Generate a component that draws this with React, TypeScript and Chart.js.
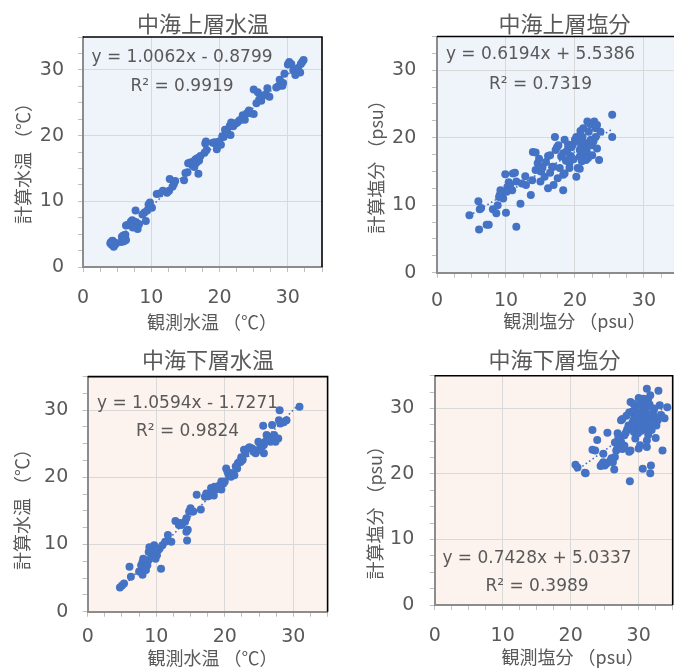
import React, { useEffect, useRef } from 'react';
import { Chart, registerables } from 'chart.js';

Chart.register(...registerables);

// ---------------- data ----------------
const panelTitles = ['中海上層水温', '中海上層塩分', '中海下層水温', '中海下層塩分'];
const xAxisTitles = ['観測水温 （℃）', '観測塩分 （psu）', '観測水温 （℃）', '観測塩分 （psu）'];
const yAxisTitles = ['計算水温 （℃）', '計算塩分 （psu）', '計算水温 （℃）', '計算塩分 （psu）'];

const trendSlopes = [1.0062, 0.6194, 1.0594, 0.7428];
const trendIntercepts = [-0.8799, 5.5386, -1.7271, 5.0337];
const r2Values = [0.9919, 0.7319, 0.9824, 0.3989];

const axisRange = [0, 35];
const minorStep = 2.5;
const majorTicks = [0, 10, 20, 30];

const upperTempObs = [4.0, 4.2, 4.3, 4.5, 4.6, 4.8, 4.4, 4.1, 5.6, 5.8, 5.9, 6.0, 6.1, 6.2, 5.7, 6.3, 6.3, 6.5, 6.8,
  7.0, 7.2, 7.4, 7.5, 7.6, 7.8, 8.0, 7.3, 7.9, 8.2, 7.7, 8.7, 9.0, 9.2, 9.4, 9.6, 9.8, 10.1, 9.9,
  10.8, 11.2, 11.7, 12.3, 12.6, 12.7, 13.1, 13.3, 13.5, 14.8, 15.0, 15.3,
  15.4, 15.7, 16.0, 16.2, 16.4, 16.5, 16.6, 16.8, 16.9, 17.0, 17.2, 16.3, 16.7, 17.9, 18.0, 18.1, 17.8,
  19.0, 19.3, 19.6, 19.9, 20.2, 20.4, 20.6,
  20.8, 21.1, 21.5, 21.6, 21.7, 22.0, 22.3, 22.6, 22.9, 23.1, 23.4, 23.7, 24.0, 24.3, 24.6, 25.0,
  25.0, 25.4, 25.6, 25.8, 26.1, 26.4, 26.8, 27.0, 27.3, 28.3, 28.6, 28.8, 29.1, 29.3, 29.5, 29.2,
  30.0, 30.2, 30.5, 30.8, 31.1, 31.5, 31.8, 32.1, 32.3, 31.9];
const upperTempCalc = [3.6, 3.4, 4.0, 3.1, 3.7, 3.5, 3.9, 3.8, 3.8, 4.3, 4.8, 3.9, 4.5, 4.9, 4.6, 4.1, 6.3, 6.4, 6.5,
  6.9, 7.1, 6.6, 6.3, 6.9, 6.2, 5.8, 6.0, 6.7, 6.5, 8.6, 8.0, 8.3, 7.0, 8.6, 9.5, 9.8, 9.0, 9.2,
  11.1, 11.2, 11.6, 11.3, 11.6, 13.4, 12.2, 12.6, 13.1, 13.2, 14.3, 14.4,
  15.8, 15.9, 15.5, 16.1, 15.7, 16.4, 15.9, 16.6, 14.2, 16.2, 16.9, 15.2, 16.0, 18.8, 19.1, 17.8, 17.4,
  18.9, 19.0, 17.9, 19.1, 18.6, 19.9, 19.8,
  20.9, 20.9, 21.5, 20.1, 22.0, 21.4, 21.8, 22.0, 22.3, 22.4, 23.1, 22.4, 23.4, 23.8, 23.4, 23.3,
  27.0, 24.9, 26.6, 25.5, 25.3, 26.1, 26.3, 27.2, 25.9, 27.3, 27.5, 28.5, 27.7, 28.0, 29.4, 27.6,
  30.8, 31.2, 30.9, 29.9, 29.2, 30.3, 29.6, 31.2, 31.5, 30.9];

const upperSalObs = [4.7, 6.0, 6.2, 6.4, 6.1, 7.2, 7.5, 8.1, 8.6, 8.8,
  9.0, 9.2, 9.4, 9.1, 9.6, 9.9, 10.0, 10.1, 10.2, 10.4, 10.6,
  11.0, 11.3, 11.5, 11.5, 12.1, 12.3, 12.8,
  13.6, 13.8, 13.9, 14.3, 14.3, 14.6, 14.8, 15.0, 15.1, 15.3,
  15.8, 16.1, 16.4, 16.1, 16.7, 16.9, 16.9, 17.1, 17.2, 17.4,
  17.6, 17.8, 18.0, 18.3, 18.3, 18.3, 18.5, 18.5, 18.8, 19.0,
  19.0, 19.2, 19.2, 19.5, 19.7, 20.0, 20.2, 20.2, 20.4, 20.7,
  20.7, 20.7, 20.9, 21.1, 21.2, 21.4, 21.6, 21.7, 21.8, 21.8,
  22.0, 22.0, 22.3, 22.5, 22.5, 22.8, 23.0, 23.0, 23.2, 23.2,
  23.5, 23.7, 25.4, 25.4,
  19.4, 20.5, 21.0, 21.9, 22.7, 20.8, 22.2, 19.8, 21.3, 18.7, 17.5, 16.4, 15.6, 12.9, 10.9];
const upperSalCalc = [8.5, 10.6, 9.4, 9.6, 6.4, 7.1, 7.1, 9.4, 8.8, 10.0,
  11.2, 12.2, 11.8, 11.5, 11.0, 14.6, 8.9, 12.0, 12.7, 13.4, 13.0,
  14.7, 14.8, 13.5, 6.8, 10.2, 13.2, 14.3,
  11.5, 13.7, 17.9, 17.8, 15.2, 16.2, 16.9, 13.5, 15.0, 15.7,
  16.4, 17.3, 17.4, 12.5, 15.7, 15.7, 13.0, 20.1, 18.2, 18.6,
  18.9, 15.5, 17.2, 17.7, 12.2, 14.5, 14.7, 19.7, 18.0, 18.4,
  19.0, 15.5, 16.2, 18.6, 19.0, 19.7, 20.1, 14.2, 15.5, 15.4,
  17.2, 18.2, 18.7, 20.1, 21.4, 17.7, 16.7, 18.0, 18.7, 22.4,
  20.9, 19.2, 19.7, 17.4, 18.9, 22.4, 21.4, 20.1, 18.4, 21.9,
  16.7, 20.9, 23.4, 20.1,
  17.3, 19.5, 16.5, 17.0, 19.5, 21.0, 22.0, 16.8, 19.3, 16.6, 14.0, 14.8, 14.2, 13.0, 12.2];

const lowerTempObs = [4.7, 5.0, 5.3, 6.1, 6.3, 7.5, 7.8, 8.0, 8.0, 8.1,
  8.5, 8.7, 8.9, 8.9, 9.2, 9.4, 9.7, 9.3, 9.9, 10.1,
  10.3, 10.5, 10.7, 10.9, 11.3, 11.7, 12.2, 12.8, 13.3, 13.5,
  13.7, 14.2, 14.4, 14.4, 14.6, 14.5, 14.8, 15.0, 15.2, 15.4,
  15.9, 16.5, 17.1, 17.3, 18.0, 18.2, 18.5, 18.7, 19.0, 19.5,
  19.5, 19.8, 20.0, 20.2, 20.4, 20.6, 20.9, 21.1, 21.4, 21.6,
  21.9, 22.1, 22.3, 22.6, 22.8, 23.0, 23.4, 24.0, 24.2, 24.5,
  24.7, 25.2, 25.4, 25.7, 25.6, 25.7, 25.9, 26.1, 26.4, 26.7,
  26.9, 27.2, 27.4, 27.8, 27.9, 28.0, 28.1, 28.6, 29.0, 30.9,
  18.4, 19.2, 21.8, 23.6, 24.9, 26.2, 22.4, 20.8, 17.6, 9.6, 9.0];
const lowerTempCalc = [3.6, 3.9, 4.2, 6.7, 5.2, 6.0, 6.9, 7.4, 5.5, 7.9,
  6.2, 6.9, 7.7, 8.9, 9.4, 9.4, 9.9, 8.7, 7.9, 8.4,
  9.2, 9.4, 6.4, 9.9, 10.4, 11.4, 10.4, 13.5, 12.9, 13.2,
  12.9, 13.4, 13.9, 11.9, 12.2, 10.6, 14.9, 15.4, 14.9, 14.9,
  17.4, 15.2, 17.1, 17.6, 18.4, 17.9, 18.6, 18.2, 18.4, 18.2,
  19.4, 19.1, 19.4, 21.3, 20.8, 20.3, 20.1, 20.6, 20.3, 21.6,
  22.1, 22.3, 22.3, 22.6, 24.1, 23.5, 24.3, 24.3, 23.8, 23.6,
  24.0, 24.8, 24.6, 24.8, 27.7, 23.6, 25.3, 26.3, 26.1, 25.3,
  27.8, 26.3, 25.3, 25.8, 28.5, 30.0, 28.0, 28.2, 28.5, 30.5,
  17.3, 18.8, 21.3, 24.5, 25.3, 25.6, 23.0, 20.6, 17.2, 9.0, 9.6];

const lowerSalObs = [20.7, 21.0, 22.1, 22.2, 23.2, 23.2, 23.6, 23.9, 24.4, 24.6,
  24.8, 25.0, 25.3, 24.8, 25.4, 25.8, 26.0, 26.2, 26.5, 26.4,
  26.7, 26.9, 27.1, 27.4, 27.6, 27.9, 26.9, 27.4, 27.6, 27.9,
  28.1, 28.3, 28.5, 28.6, 28.8, 28.7, 28.6, 28.8, 29.1, 29.3,
  29.5, 29.8, 29.3, 29.5, 29.8, 30.0, 30.2, 30.0, 30.2, 30.5,
  30.7, 30.7, 30.6, 30.9, 31.0, 31.2, 31.2, 31.2, 31.2, 31.4,
  31.7, 31.7, 31.9, 31.7, 31.8, 31.9, 32.1, 32.4, 32.6, 32.8,
  32.9, 33.1, 33.5,
  29.0, 29.6, 30.1, 30.3, 30.8, 31.0, 31.3, 31.5, 30.4, 29.9,
  31.1, 30.6, 29.4, 30.9, 31.6, 32.3, 32.0, 28.2, 28.9, 29.7,
  30.4, 31.4, 32.5, 30.0, 29.2, 27.0, 26.5, 33.3, 33.8, 34.2];
const lowerSalCalc = [21.4, 21.0, 20.2, 20.1, 26.7, 23.7, 23.6, 25.2, 21.2, 21.5,
  21.8, 21.3, 21.6, 23.1, 26.3, 22.0, 22.4, 21.8, 22.6, 20.7,
  23.6, 24.0, 24.4, 24.9, 23.8, 24.3, 26.2, 28.2, 28.4, 25.9,
  26.3, 26.8, 27.4, 23.4, 23.6, 18.9, 29.4, 31.0, 27.9, 28.4,
  28.9, 29.4, 26.4, 25.4, 27.1, 27.6, 28.2, 23.9, 24.4, 29.4,
  30.4, 31.5, 20.8, 28.9, 27.9, 26.9, 25.1, 24.1, 33.0, 31.5,
  32.0, 27.4, 28.4, 20.1, 21.3, 26.7, 29.4, 28.7, 27.4, 28.2,
  32.7, 30.5, 23.6,
  29.5, 30.1, 29.0, 30.7, 30.0, 29.5, 30.3, 29.0, 27.5, 26.2,
  28.3, 28.6, 29.8, 31.1, 30.6, 30.0, 27.9, 28.9, 27.2, 28.0,
  26.6, 26.0, 25.5, 31.6, 30.7, 25.5, 24.8, 29.0, 28.5, 30.2];

// ---------------- styling / layout ----------------
const BLUE = '#4472C4';
const TEXT = '#595959';
const GRID = '#d9d9d9';
const LATIN = '"DejaVu Sans", "Noto Sans CJK JP", sans-serif';
const CJK = '"Noto Sans CJK JP", "DejaVu Sans", sans-serif';

type Box = { left: number; top: number; width: number; height: number };
type Area = { left: number; top: number; right: number; bottom: number };
type Spec = {
  idx: number;
  obs: number[];
  calc: number[];
  bg: string;
  box: Box;
  area: Area;
  xTickPad: number;
  yTickPad: number;
  titlePos: [number, number];
  xTitlePos: [number, number];
  yTitlePos: [number, number];
  eqPos: [number, number, number];
};

const specs: Spec[] = [
  {
    idx: 0, obs: upperTempObs, calc: upperTempCalc, bg: '#EFF3FA',
    box: { left: 0, top: 0, width: 337, height: 335 },
    area: { left: 83, top: 37, right: 333, bottom: 267 },
    xTickPad: 15, yTickPad: 14,
    titlePos: [203, 24], xTitlePos: [212, 322], yTitlePos: [23, 159], eqPos: [182, 58, 86.5],
  },
  {
    idx: 1, obs: upperSalObs, calc: upperSalCalc, bg: '#EFF3FA',
    box: { left: 337, top: 0, width: 353, height: 335 },
    area: { left: 100, top: 36.5, right: 348.5, bottom: 272.7 },
    xTickPad: 11.6, yTickPad: 15.7,
    titlePos: [227.5, 24], xTitlePos: [237.5, 321.5], yTitlePos: [39, 162.5], eqPos: [203.5, 55, 85],
  },
  {
    idx: 2, obs: lowerTempObs, calc: lowerTempCalc, bg: '#FCF3EE',
    box: { left: 0, top: 335, width: 337, height: 335 },
    area: { left: 87.7, top: 41.6, right: 331.6, bottom: 276.7 },
    xTickPad: 9.4, yTickPad: 14.4,
    titlePos: [208, 25], xTitlePos: [212.5, 323.3], yTitlePos: [22.5, 170], eqPos: [187.5, 68.3, 96.7],
  },
  {
    idx: 3, obs: lowerSalObs, calc: lowerSalCalc, bg: '#FCF3EE',
    box: { left: 337, top: 335, width: 350, height: 335 },
    area: { left: 97.7, top: 40.7, right: 345.5, bottom: 270 },
    xTickPad: 14.3, yTickPad: 15.4,
    titlePos: [217.5, 24.2], xTitlePos: [235.8, 322.5], yTitlePos: [38.3, 173.3], eqPos: [200, 223.3, 251.7],
  },
];

function eqText(i: number): string {
  const b = trendIntercepts[i];
  return `y = ${trendSlopes[i].toFixed(4)}x ${b < 0 ? '-' : '+'} ${Math.abs(b).toFixed(4)}`;
}

function scaleOptions(axis: 'x' | 'y', s: Spec): any {
  return {
    type: 'linear',
    position: axis === 'x' ? 'bottom' : 'left',
    min: axisRange[0],
    max: axisRange[1],
    afterFit: (sc: any) => {
      if (axis === 'x') sc.height = s.box.height - s.area.bottom;
      else sc.width = s.area.left;
    },
    ticks: {
      stepSize: minorStep,
      autoSkip: false,
      maxRotation: 0,
      minRotation: 0,
      padding: axis === 'x' ? s.xTickPad : s.yTickPad,
      color: TEXT,
      font: { family: LATIN, size: 19 },
      callback: (v: number) => (majorTicks.includes(v) ? String(v) : ''),
    },
    grid: {
      color: (c: any) =>
        c.tick && majorTicks.includes(c.tick.value) && c.tick.value !== 0 ? GRID : 'rgba(0,0,0,0)',
      tickColor: '#bfbfbf',
      tickLength: 5,
      lineWidth: 1,
      drawTicks: true,
    },
    border: { display: true, color: '#8c8c8c', width: 2 },
    title: { display: false },
  };
}

function Panel({ s }: { s: Spec }) {
  const ref = useRef<HTMLCanvasElement>(null);
  useEffect(() => {
    const canvas = ref.current;
    if (!canvas) return;
    const i = s.idx;
    const pts = s.obs.map((x, k) => ({ x, y: s.calc[k] }));
    const xMin = Math.min(...s.obs);
    const xMax = Math.max(...s.obs);
    const trend = [
      { x: xMin, y: trendSlopes[i] * xMin + trendIntercepts[i] },
      { x: xMax, y: trendSlopes[i] * xMax + trendIntercepts[i] },
    ];
    const panelPlugin = {
      id: 'panelDecor' + i,
      beforeDraw(chart: any) {
        const { ctx, chartArea: a } = chart;
        ctx.save();
        ctx.fillStyle = s.bg;
        ctx.fillRect(a.left, a.top, a.right - a.left, a.bottom - a.top);
        ctx.restore();
      },
      afterDraw(chart: any) {
        const { ctx, chartArea: a } = chart;
        ctx.save();
        ctx.strokeStyle = '#000000';
        ctx.lineWidth = 1.6;
        ctx.beginPath();
        ctx.moveTo(a.left, a.top);
        ctx.lineTo(a.right, a.top);
        ctx.lineTo(a.right, a.bottom);
        ctx.stroke();

        ctx.fillStyle = TEXT;
        ctx.textAlign = 'center';
        ctx.textBaseline = 'middle';
        ctx.font = `22px ${CJK}`;
        ctx.fillText(panelTitles[i], s.titlePos[0], s.titlePos[1]);

        ctx.font = `17px ${LATIN}`;
        ctx.fillText(eqText(i), s.eqPos[0], s.eqPos[1]);
        ctx.fillText(`R² = ${r2Values[i].toFixed(4)}`, s.eqPos[0], s.eqPos[2]);

        ctx.font = `18px ${CJK}`;
        ctx.fillText(xAxisTitles[i], s.xTitlePos[0], s.xTitlePos[1]);
        ctx.translate(s.yTitlePos[0], s.yTitlePos[1]);
        ctx.rotate(-Math.PI / 2);
        ctx.fillText(yAxisTitles[i], 0, 0);
        ctx.restore();
      },
    };
    const chart = new Chart(canvas, {
      type: 'scatter',
      data: {
        datasets: [
          {
            label: 'trend',
            data: trend,
            showLine: true,
            borderColor: BLUE,
            borderWidth: 1.6,
            borderDash: [1.6, 2.6],
            pointRadius: 0,
            pointHoverRadius: 0,
            fill: false,
          } as any,
          {
            label: 'data',
            data: pts,
            pointRadius: 4,
            pointHoverRadius: 4,
            backgroundColor: BLUE,
            borderColor: BLUE,
            borderWidth: 0,
          },
        ],
      },
      options: {
        responsive: false,
        maintainAspectRatio: false,
        animation: false,
        devicePixelRatio: 1,
        layout: { padding: { left: 0, top: s.area.top, right: s.box.width - s.area.right, bottom: 0 } },
        plugins: { legend: { display: false }, tooltip: { enabled: false }, title: { display: false } },
        events: [],
        scales: { x: scaleOptions('x', s), y: scaleOptions('y', s) },
      } as any,
      plugins: [panelPlugin],
    });
    return () => chart.destroy();
  }, [s]);
  return (
    <canvas
      ref={ref}
      width={s.box.width}
      height={s.box.height}
      style={{
        position: 'absolute',
        left: s.box.left,
        top: s.box.top,
        width: s.box.width,
        height: s.box.height,
        display: 'block',
      }}
    />
  );
}

export default function App() {
  return (
    <div
      style={{
        position: 'fixed',
        left: 0,
        top: 0,
        width: 674,
        height: 670,
        overflow: 'hidden',
        background: '#ffffff',
      }}
    >
      {specs.map((s) => (
        <Panel key={s.idx} s={s} />
      ))}
    </div>
  );
}
